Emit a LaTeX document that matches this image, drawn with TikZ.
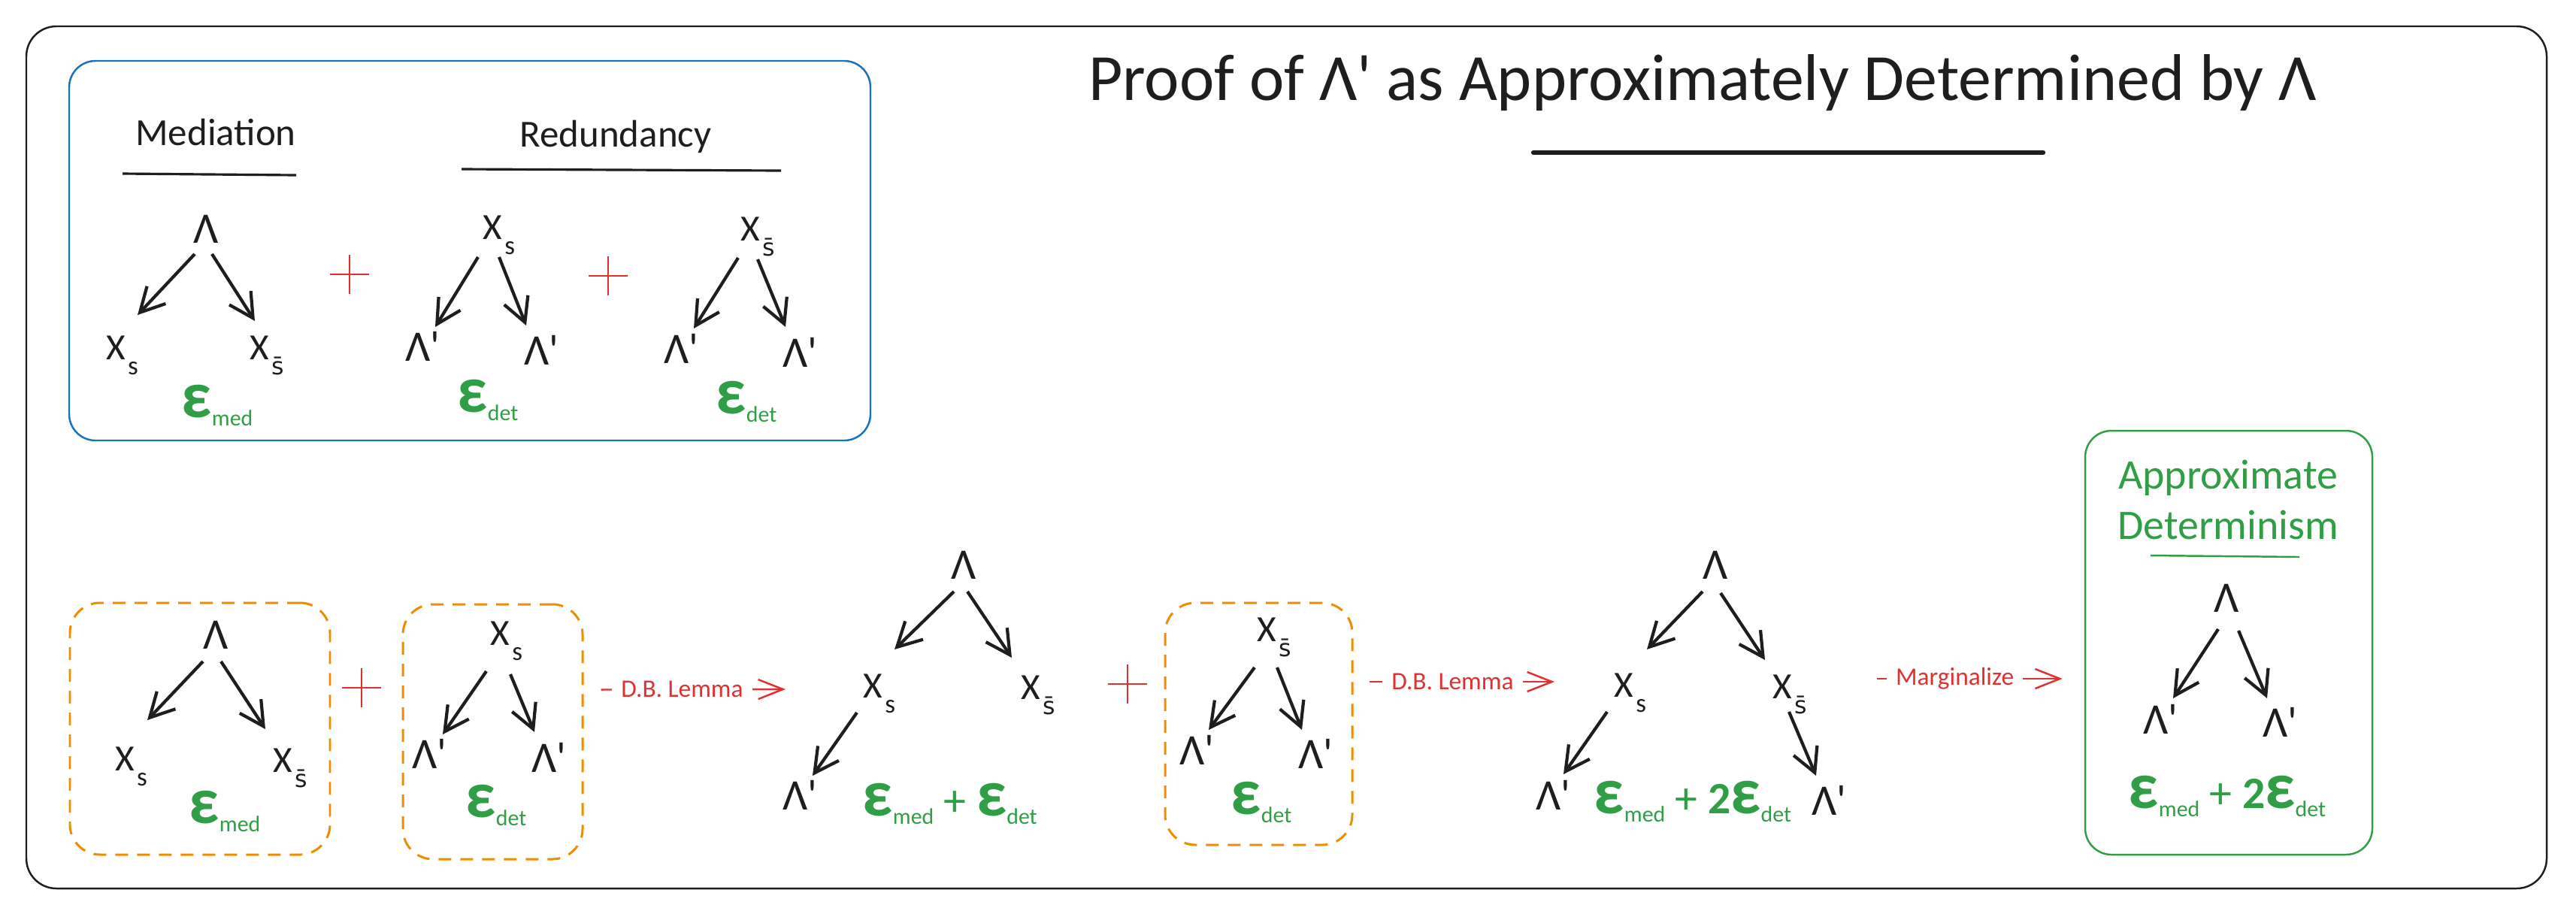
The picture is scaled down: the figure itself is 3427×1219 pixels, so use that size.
\documentclass[tikz,border=0pt]{standalone}
\usepackage{fontspec}
\setmainfont{Carlito}
\newfontfamily\dejavu{DejaVu Sans}
\usetikzlibrary{arrows.meta}
\definecolor{ink}{HTML}{1E1E1E}
\definecolor{exblue}{HTML}{1971C2}
\definecolor{exorange}{HTML}{F08C00}
\definecolor{exgreen}{HTML}{2F9E44}
\definecolor{exred}{HTML}{E03131}
\newcommand\fs[1]{\fontsize{#1}{#1}\selectfont}
\newcommand\subs[1]{\raisebox{-2mm}{\fs{10}#1}}
\newcommand\Xs{X\kern0.3mm\subs{s}}
\newcommand\Xsb{X\kern0.3mm\raisebox{-2mm}{\fs{9}\dejavu s̄}}
\newcommand\Lp{Λ\textquotesingle}
\newcommand\Eps[1]{{\fs{25}\bfseries ε}\raisebox{-1.1mm}{\fs{8.5}#1}}
\tikzset{
 lam/.style={inner sep=0, anchor=base west, text=ink, font=\fs{16.5}},
 xl/.style={inner sep=0, anchor=base west, text=ink, font=\fs{14}},
 eps/.style={inner sep=0, anchor=base west, text=exgreen, font=\fs{17}},
 arr/.style={draw=ink, line width=1.2pt, -{Straight Barb[length=3.2mm,width=3.4mm]}},
 redarr/.style={draw=exred, line width=0.7pt, -{Straight Barb[length=3.3mm,width=2.6mm]}},
 redlab/.style={fill=white, text=exred, font=\fs{9.5}, inner sep=1.2mm},
 plusn/.style={minimum size=5mm, inner sep=0},
 plusline/.style={draw=exred, line width=0.7pt},
 obox/.style={draw=exorange, dash pattern=on 1.7mm off 1.2mm, line width=0.85pt, rounded corners=4mm, inner sep=0},
}
\begin{document}
\begin{tikzpicture}[x=0.1mm,y=-0.1mm]
\useasboundingbox (0,0) rectangle (3427,1219);
\fill[white] (0,0) rectangle (3427,1219);
% frames
\node[draw=ink, line width=0.7pt, rounded corners=4mm, minimum width=335.3mm, minimum height=114.7mm, inner sep=0] (frame) at (1711.5,608.5) {};
\node[draw=exblue, line width=0.7pt, rounded corners=3.5mm, minimum width=106.6mm, minimum height=50.5mm, inner sep=0] (blue) at (625,333.5) {};
\node[draw=exgreen, line width=0.7pt, rounded corners=3.5mm, minimum width=38.2mm, minimum height=56.4mm, inner sep=0] (green) at (2965,855) {};
\node[obox, minimum width=34.6mm, minimum height=33.5mm] (box1) at (266,969.5) {};
\node[obox, minimum width=23.9mm, minimum height=33.9mm] (box2) at (655.5,973.5) {};
\node[obox, minimum width=24.9mm, minimum height=32.2mm] (box3) at (1674.5,963) {};
% title
\node[font=\fs{25}, text=ink, anchor=base, inner sep=0] (title) at (2265,133) {Proof of \Lp\ as Approximately Determined by Λ};
\draw[ink, line width=1.8pt, line cap=round] (2040,203) -- (2718,203);
\node[font=\fs{14.5}, text=ink, anchor=base, inner sep=0] (medt) at (287,193) {Mediation};
\node[font=\fs{14.5}, text=ink, anchor=base, inner sep=0] (redt) at (819,195) {Redundancy};
\draw[ink, line width=0.9pt] (163,231) -- (394,233);
\draw[ink, line width=0.9pt] (614,225) -- (1039,227);
% top mediation
\node[lam] (mL) at (257,323) {Λ};
\node[xl] (mX1) at (141,478) {\Xs};
\node[xl] (mX2) at (332,478) {\Xsb};
\node[eps] (mE) at (241,555) {\Eps{med}};
\draw[arr] ([shift={(2,15)}]mL.base west) -- ([shift={(42,-59)}]mX1.base west);
\draw[arr] ([shift={(25,15)}]mL.base west) -- ([shift={(7,-51)}]mX2.base west);
\node[plusn] (p1) at (465,365) {};
\draw[plusline] (p1.north) -- (p1.south) (p1.west) -- (p1.east);
% top redundancy 1
\node[xl] (r1X) at (642,318) {\Xs};
\node[lam] (r1A) at (539,480) {\Lp};
\node[lam] (r1B) at (697,485) {\Lp};
\node[eps] (r1E) at (608,548) {\Eps{det}};
\draw[arr] ([shift={(-6,24)}]r1X.base west) -- ([shift={(40,-45)}]r1A.base west);
\draw[arr] ([shift={(22,24)}]r1X.base west) -- ([shift={(3,-52)}]r1B.base west);
\node[plusn] (p2) at (809,367) {};
\draw[plusline] (p2.north) -- (p2.south) (p2.west) -- (p2.east);
% top redundancy 2
\node[xl] (r2X) at (985,320) {\Xsb};
\node[lam] (r2A) at (883,483) {\Lp};
\node[lam] (r2B) at (1041,488) {\Lp};
\node[eps] (r2E) at (952,550) {\Eps{det}};
\draw[arr] ([shift={(-3,23)}]r2X.base west) -- ([shift={(40,-46)}]r2A.base west);
\draw[arr] ([shift={(23,25)}]r2X.base west) -- ([shift={(4,-53)}]r2B.base west);
% bottom 1
\node[lam] (b1L) at (270,863) {Λ};
\node[xl] (b1X1) at (153,1025) {\Xs};
\node[xl] (b1X2) at (363,1027) {\Xsb};
\node[eps] (b1E) at (251,1095) {\Eps{med}};
\draw[arr] ([shift={(0,17)}]b1L.base west) -- ([shift={(43,-67)}]b1X1.base west);
\draw[arr] ([shift={(24,17)}]b1L.base west) -- ([shift={(-10,-57)}]b1X2.base west);
\node[plusn] (p3) at (481,915) {};
\draw[plusline] (p3.north) -- (p3.south) (p3.west) -- (p3.east);
% bottom 2
\node[xl] (b2X) at (652,858) {\Xs};
\node[lam] (b2A) at (548,1022) {\Lp};
\node[lam] (b2B) at (707,1027) {\Lp};
\node[eps] (b2E) at (619,1087) {\Eps{det}};
\draw[arr] ([shift={(-5,35)}]b2X.base west) -- ([shift={(41,-45)}]b2A.base west);
\draw[arr] ([shift={(27,39)}]b2X.base west) -- ([shift={(4,-53)}]b2B.base west);
% bottom 3
\node[lam] (b3L) at (1265,770) {Λ};
\node[xl] (b3X1) at (1148,928) {\Xs};
\node[xl] (b3X2) at (1358,930) {\Xsb};
\node[lam] (b3A) at (1041,1077) {\Lp};
\node[eps] (b3E) at (1147,1085) {\Eps{med} + \Eps{det}};
\draw[arr] ([shift={(4,17)}]b3L.base west) -- ([shift={(42,-64)}]b3X1.base west);
\draw[arr] ([shift={(22,17)}]b3L.base west) -- ([shift={(-12,-55)}]b3X2.base west);
\draw[arr] ([shift={(-8,20)}]b3X1.base west) -- ([shift={(40,-45)}]b3A.base west);
\draw[redarr] ([shift={(23,-56)}]box2.east) -- node[redlab, pos=0.44] (lab1) {D.B. Lemma} ([shift={(-103,-11)}]b3X1.base west);
\node[plusn] (p4) at (1500,910) {};
\draw[plusline] (p4.north) -- (p4.south) (p4.west) -- (p4.east);
% bottom 4
\node[xl] (b4X) at (1672,853) {\Xsb};
\node[lam] (b4A) at (1569,1017) {\Lp};
\node[lam] (b4B) at (1727,1022) {\Lp};
\node[eps] (b4E) at (1637,1083) {\Eps{det}};
\draw[arr] ([shift={(-3,35)}]b4X.base west) -- ([shift={(39,-46)}]b4A.base west);
\draw[arr] ([shift={(27,35)}]b4X.base west) -- ([shift={(5,-51)}]b4B.base west);
% bottom 5
\node[lam] (b5L) at (2265,770) {Λ};
\node[xl] (b5X1) at (2147,927) {\Xs};
\node[xl] (b5X2) at (2358,929) {\Xsb};
\node[lam] (b5A) at (2043,1077) {\Lp};
\node[lam] (b5B) at (2410,1084) {\Lp};
\node[eps] (b5E) at (2120,1082) {\Eps{med} + {\bfseries 2}\Eps{det}};
\draw[arr] ([shift={(0,17)}]b5L.base west) -- ([shift={(44,-63)}]b5X1.base west);
\draw[arr] ([shift={(24,19)}]b5L.base west) -- ([shift={(-10,-51)}]b5X2.base west);
\draw[arr] ([shift={(-9,20)}]b5X1.base west) -- ([shift={(37,-47)}]b5A.base west);
\draw[arr] ([shift={(22,18)}]b5X2.base west) -- ([shift={(6,-52)}]b5B.base west);
\draw[redarr] ([shift={(21,-56)}]box3.east) -- node[redlab, pos=0.45] (lab2) {D.B. Lemma} ([shift={(-79,-20)}]b5X1.base west);
\draw[redarr] ([shift={(139,-26)}]b5X2.base west) -- node[redlab, pos=0.42] (lab3) {Marginalize} ([shift={(-29,48)}]green.west);
% green box
\node[align=center, text=exgreen, font={\fontsize{15.9}{19}\selectfont}, inner sep=0] (gt) at (2964,665) {Approximate\\Determinism};
\draw[exgreen, line width=0.7pt] (2861,739) -- (3059,741);
\node[lam] (gL) at (2945,814) {Λ};
\node[lam] (gA) at (2851,976) {\Lp};
\node[lam] (gB) at (3010,980) {\Lp};
\node[eps] (gE) at (2831,1075) {\Eps{med} + {\bfseries 2}\Eps{det}};
\draw[arr] ([shift={(6,23)}]gL.base west) -- ([shift={(40,-47)}]gA.base west);
\draw[arr] ([shift={(33,25)}]gL.base west) -- ([shift={(6,-51)}]gB.base west);
\end{tikzpicture}
\end{document}
